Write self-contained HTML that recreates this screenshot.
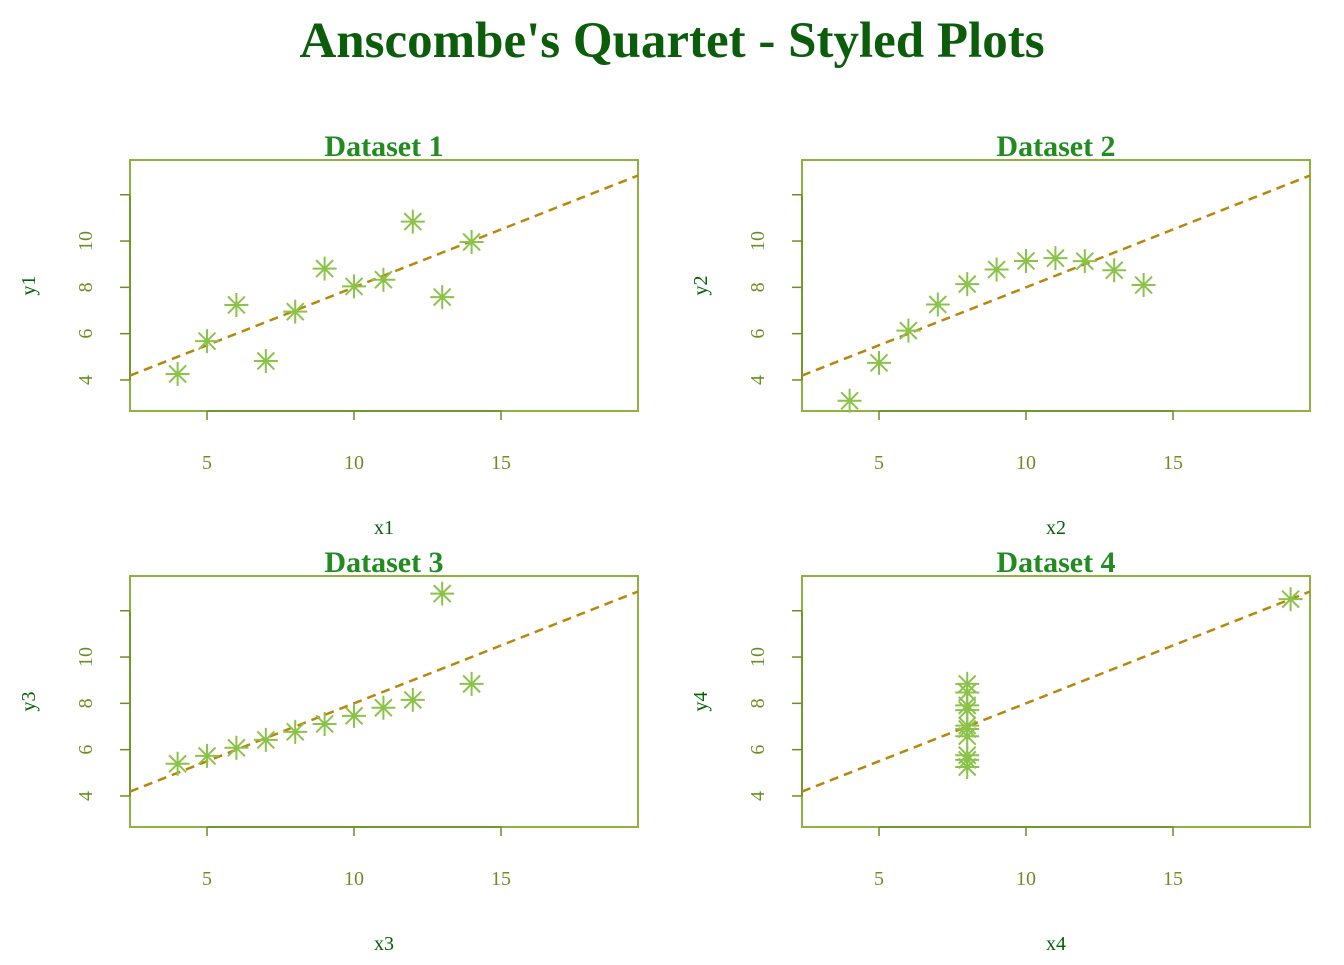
<!DOCTYPE html>
<html><head><meta charset="utf-8"><style>
body{margin:0;background:#fff}
svg text{font-family:"Liberation Serif",serif}
</style></head><body>
<svg id="chart" width="1344" height="960" viewBox="0 0 1344 960" xmlns="http://www.w3.org/2000/svg">
<text x="672" y="57" text-anchor="middle" font-size="51" font-weight="bold" fill="#0B5C0B">Anscombe's Quartet - Styled Plots</text>
</svg>
<script>
const x123 = [10, 8, 13, 9, 11, 14, 6, 4, 12, 7, 5];
const y1 = [8.04, 6.95, 7.58, 8.81, 8.33, 9.96, 7.24, 4.26, 10.84, 4.82, 5.68];
const y2 = [9.14, 8.14, 8.74, 8.77, 9.26, 8.10, 6.13, 3.10, 9.13, 7.26, 4.74];
const y3 = [7.46, 6.77, 12.74, 7.11, 7.81, 8.84, 6.08, 5.39, 8.15, 6.42, 5.73];
const x4 = [8, 8, 8, 8, 8, 8, 8, 19, 8, 8, 8];
const y4 = [6.58, 5.76, 7.71, 8.84, 8.47, 7.04, 5.25, 12.50, 5.56, 7.91, 6.89];
const xTicks = [5, 10, 15];
const yTicks = [4, 6, 8, 10, 12];
const yTickLabels = ['4', '6', '8', '10', ''];
const fitIntercept = 3.0, fitSlope = 0.5;
const panels = [
  {title:'Dataset 1', xl:'x1', yl:'y1', xs:x123, ys:y1, ox:0, oy:0},
  {title:'Dataset 2', xl:'x2', yl:'y2', xs:x123, ys:y2, ox:672, oy:0},
  {title:'Dataset 3', xl:'x3', yl:'y3', xs:x123, ys:y3, ox:0, oy:416},
  {title:'Dataset 4', xl:'x4', yl:'y4', xs:x4, ys:y4, ox:672, oy:416}
];
const NS='http://www.w3.org/2000/svg';
const svg=document.getElementById('chart');
function mk(tag,attrs,parent){const e=document.createElementNS(NS,tag);for(const k in attrs)e.setAttribute(k,attrs[k]);(parent||svg).appendChild(e);return e;}
const xmin=2.38,xmax=19.66,ymin=2.66,ymax=13.5;
panels.forEach((p,i)=>{
  const L=130+p.ox,R=638+p.ox,T=160+p.oy,B=411+p.oy;
  const sx=v=>L+(v-xmin)/(xmax-xmin)*(R-L);
  const sy=v=>B-(v-ymin)/(ymax-ymin)*(B-T);
  const g=mk('g',{});
  
  
  const cp=mk('clipPath',{id:'cp'+i},g);
  mk('rect',{x:L,y:T,width:R-L,height:B-T},cp);
  const t=mk('text',{x:(L+R)/2,y:T-4,'text-anchor':'middle','font-size':30,'font-weight':'bold',fill:'#228B22'},g);
  t.textContent=p.title;
  
  
  const box=mk('rect',{x:L,y:T,width:R-L,height:B-T,fill:'none',stroke:'#8DB33A','stroke-width':2},g);
  
  
  const xa=mk('g',{},g);
  
  
  mk('line',{x1:sx(xTicks[0]),x2:sx(xTicks[xTicks.length-1]),y1:B,y2:B,stroke:'#6B8E23','stroke-width':1.5},xa);
  xTicks.forEach(v=>{
    mk('line',{x1:sx(v),x2:sx(v),y1:B,y2:B+9,stroke:'#6B8E23','stroke-width':1.5},xa);
    const tl=mk('text',{x:sx(v),y:B+58,'text-anchor':'middle','font-size':20,fill:'#6B8E23'},xa);
    tl.textContent=v;
    
    
  });
  const ya=mk('g',{},g);
  
  
  mk('line',{x1:L,x2:L,y1:sy(yTicks[0]),y2:sy(yTicks[yTicks.length-1]),stroke:'#6B8E23','stroke-width':1.5},ya);
  yTicks.forEach((v,j)=>{
    mk('line',{x1:L-10,x2:L,y1:sy(v),y2:sy(v),stroke:'#6B8E23','stroke-width':1.5},ya);
    if(yTickLabels[j]){
      const tl=mk('text',{x:0,y:0,'text-anchor':'middle','font-size':20,fill:'#6B8E23',transform:`translate(${L-38},${sy(v)}) rotate(-90)`},ya);
      tl.textContent=yTickLabels[j];
      
      
    }
  });
  const xt=mk('text',{x:(L+R)/2,y:B+123,'text-anchor':'middle','font-size':20,fill:'#006400'},g);
  xt.textContent=p.xl;
  
  
  const yt=mk('text',{x:0,y:0,'text-anchor':'middle','font-size':20,fill:'#006400',transform:`translate(${L-95},${(T+B)/2}) rotate(-90)`},g);
  yt.textContent=p.yl;
  
  
  const ln=mk('line',{x1:sx(xmin),y1:sy(fitIntercept+fitSlope*xmin),x2:sx(xmax),y2:sy(fitIntercept+fitSlope*xmax),stroke:'#B8860B','stroke-width':2.5,'stroke-dasharray':'9,6','clip-path':`url(#cp${i})`},g);
  
  
  p.xs.forEach((xv,k)=>{
    const cx=sx(xv),cy=sy(p.ys[k]),r=12,d=r*0.707;
    const pt=mk('path',{d:`M${cx-r},${cy}H${cx+r}M${cx},${cy-r}V${cy+r}M${cx-d},${cy-d}L${cx+d},${cy+d}M${cx-d},${cy+d}L${cx+d},${cy-d}`,stroke:'#8BC34A','stroke-width':2,fill:'none'},g);
    
    
  });
});
</script>
</body></html>
